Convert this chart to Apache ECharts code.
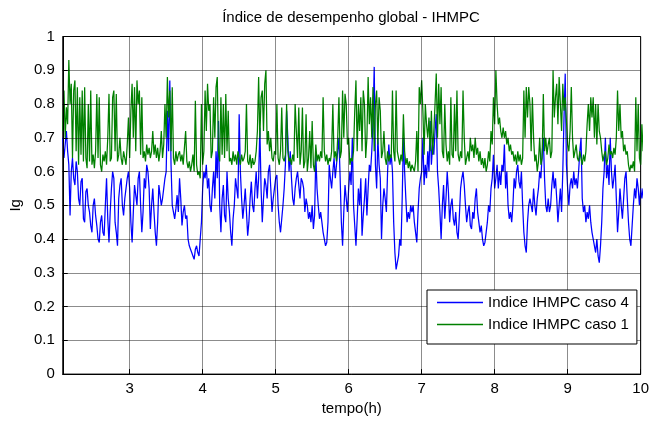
<!DOCTYPE html>
<html>
<head>
<meta charset="utf-8">
<script src="https://cdn.jsdelivr.net/npm/echarts@6/dist/echarts.min.js"></script>
<style>
  html, body { margin: 0; padding: 0; background: #fff; }
  #chart { width: 652px; height: 421px; }
</style>
</head>
<body>
<div id="chart"></div>
<script>
// amostragem: a cada 1 min a partir de 2h05
const t0 = 2.0833;
const dt = 1 / 60;

const xTicks = [3, 4, 5, 6, 7, 8, 9, 10];

// Indice IHMPC caso 4 (azul)
const caso4 = [
  // 2.08 - 3.68 h
  0.70,0.64,0.68,0.72,0.66,0.62,0.47,0.60,0.64,0.58, 0.56,0.63,0.60,0.52,0.50,0.57,0.58,0.46,0.45,0.54,
  0.55,0.50,0.48,0.44,0.42,0.50,0.52,0.47,0.44,0.40, 0.39,0.45,0.47,0.42,0.41,0.50,0.58,0.46,0.39,0.48,
  0.55,0.60,0.58,0.45,0.42,0.38,0.52,0.56,0.58,0.50, 0.47,0.52,0.55,0.58,0.60,0.55,0.45,0.39,0.48,0.56,
  0.53,0.50,0.58,0.60,0.50,0.42,0.48,0.58,0.55,0.62, 0.60,0.55,0.43,0.50,0.55,0.48,0.42,0.38,0.45,0.56,
  0.53,0.50,0.52,0.55,0.58,0.60,0.78,0.66,0.87,0.62, 0.50,0.48,0.46,0.49,0.53,0.48,
  // 3.68 - 5.28 h
  0.58,0.52,0.44,0.48,0.50,0.46,0.47,0.40,0.38,0.37, 0.36,0.35,0.34,0.37,0.38,0.36,0.35,0.40,0.45,0.55,
  0.60,0.58,0.62,0.55,0.58,0.50,0.48,0.55,0.60,0.52, 0.66,0.58,0.75,0.50,0.42,0.52,0.56,0.47,0.45,0.60,
  0.52,0.48,0.42,0.38,0.46,0.50,0.58,0.55,0.52,0.77, 0.60,0.52,0.46,0.50,0.55,0.48,0.41,0.45,0.52,0.57,
  0.50,0.48,0.55,0.60,0.52,0.58,0.73,0.55,0.45,0.52, 0.58,0.56,0.52,0.60,0.62,0.55,0.48,0.52,0.55,0.58,
  0.59,0.50,0.45,0.42,0.46,0.50,0.55,0.62,0.78,0.70, 0.60,0.66,0.58,0.52,0.50,0.55,
  // 5.28 - 6.88 h
  0.58,0.60,0.56,0.52,0.58,0.57,0.55,0.48,0.52,0.50, 0.46,0.48,0.45,0.50,0.43,0.47,0.65,0.55,0.50,0.46,
  0.48,0.45,0.42,0.40,0.38,0.39,0.45,0.62,0.58,0.55, 0.60,0.64,0.58,0.62,0.66,0.70,0.58,0.45,0.38,0.48,
  0.56,0.52,0.48,0.55,0.60,0.56,0.70,0.50,0.44,0.38, 0.46,0.55,0.50,0.58,0.41,0.47,0.52,0.58,0.47,0.55,
  0.62,0.60,0.66,0.75,0.91,0.62,0.55,0.70,0.62,0.58, 0.40,0.50,0.55,0.52,0.48,0.60,0.68,0.62,0.65,0.60,
  0.45,0.36,0.31,0.33,0.35,0.40,0.38,0.52,0.70,0.60, 0.52,0.45,0.48,0.46,0.50,0.48,
  // 6.88 - 8.48 h
  0.50,0.45,0.42,0.39,0.48,0.55,0.58,0.60,0.70,0.56, 0.62,0.58,0.66,0.60,0.75,0.62,0.68,0.65,0.72,0.77,
  0.60,0.55,0.48,0.40,0.50,0.56,0.46,0.52,0.60,0.54, 0.45,0.50,0.52,0.46,0.44,0.48,0.42,0.40,0.47,0.55,
  0.58,0.60,0.56,0.50,0.45,0.48,0.50,0.44,0.43,0.48, 0.46,0.52,0.55,0.48,0.45,0.42,0.44,0.40,0.38,0.39,
  0.42,0.45,0.50,0.48,0.55,0.58,0.65,0.55,0.58,0.62, 0.55,0.60,0.56,0.62,0.60,0.68,0.55,0.60,0.50,0.46,
  0.48,0.45,0.50,0.58,0.55,0.60,0.62,0.57,0.55,0.60, 0.50,0.42,0.38,0.36,0.45,0.50,
  // 8.48 - 10 h
  0.52,0.50,0.48,0.55,0.50,0.47,0.52,0.55,0.60,0.58, 0.65,0.70,0.58,0.50,0.48,0.52,0.48,0.50,0.56,0.60,
  0.55,0.58,0.52,0.45,0.50,0.55,0.48,0.60,0.76,0.89, 0.62,0.55,0.50,0.56,0.58,0.55,0.60,0.56,0.58,0.55,
  0.60,0.66,0.70,0.52,0.48,0.50,0.45,0.48,0.46,0.50, 0.45,0.42,0.40,0.38,0.36,0.40,0.35,0.33,0.38,0.45,
  0.55,0.60,0.70,0.58,0.62,0.56,0.70,0.60,0.55,0.58, 0.62,0.52,0.42,0.48,0.55,0.50,0.46,0.52,0.58,0.60,
  0.52,0.45,0.40,0.38,0.44,0.50,0.55,0.52,0.58,0.55, 0.50,0.55,0.52,0.55
];

// Indice IHMPC caso 1 (verde)
const caso1 = [
  // 2.08 - 3.68 h
  0.72,0.84,0.70,0.79,0.74,0.93,0.80,0.86,0.64,0.84, 0.87,0.66,0.85,0.62,0.82,0.65,0.84,0.63,0.85,0.64,
  0.61,0.80,0.63,0.84,0.62,0.65,0.61,0.66,0.83,0.64, 0.82,0.62,0.60,0.65,0.63,0.66,0.62,0.70,0.83,0.63,
  0.64,0.82,0.84,0.66,0.83,0.63,0.65,0.70,0.64,0.62, 0.66,0.64,0.62,0.68,0.76,0.64,0.78,0.86,0.70,0.85,
  0.66,0.87,0.80,0.84,0.65,0.82,0.64,0.66,0.63,0.68, 0.65,0.67,0.64,0.66,0.72,0.65,0.68,0.64,0.67,0.63,
  0.66,0.72,0.64,0.68,0.80,0.70,0.88,0.76,0.84,0.66, 0.85,0.64,0.62,0.66,0.63,0.65,
  // 3.68 - 5.28 h
  0.66,0.63,0.65,0.62,0.67,0.72,0.63,0.61,0.63,0.60, 0.62,0.65,0.60,0.81,0.62,0.59,0.60,0.58,0.80,0.62,
  0.66,0.84,0.72,0.86,0.78,0.80,0.64,0.66,0.82,0.70, 0.85,0.88,0.66,0.63,0.82,0.65,0.80,0.64,0.83,0.66,
  0.78,0.63,0.64,0.62,0.66,0.63,0.65,0.62,0.66,0.64, 0.62,0.65,0.63,0.64,0.66,0.80,0.63,0.62,0.65,0.61,
  0.64,0.62,0.63,0.66,0.72,0.88,0.70,0.82,0.84,0.72, 0.86,0.90,0.68,0.72,0.66,0.70,0.64,0.63,0.66,0.65,
  0.80,0.64,0.62,0.66,0.79,0.64,0.63,0.65,0.80,0.66, 0.63,0.64,0.62,0.65,0.63,0.80,
  // 5.28 - 6.88 h
  0.80,0.64,0.79,0.62,0.66,0.79,0.61,0.63,0.77,0.60, 0.64,0.72,0.61,0.75,0.62,0.60,0.68,0.63,0.65,0.63,
  0.66,0.64,0.82,0.66,0.63,0.65,0.62,0.64,0.63,0.66, 0.80,0.64,0.66,0.63,0.70,0.82,0.64,0.66,0.84,0.70,
  0.83,0.80,0.68,0.70,0.62,0.64,0.63,0.66,0.78,0.87, 0.66,0.80,0.72,0.82,0.66,0.84,0.80,0.64,0.70,0.88,
  0.74,0.82,0.70,0.85,0.66,0.80,0.84,0.68,0.82,0.78, 0.64,0.66,0.72,0.64,0.62,0.66,0.63,0.65,0.64,0.84,
  0.66,0.63,0.84,0.66,0.64,0.62,0.65,0.63,0.77,0.66, 0.62,0.64,0.61,0.63,0.60,0.62,
  // 6.88 - 8.48 h
  0.62,0.60,0.63,0.72,0.60,0.85,0.80,0.87,0.78,0.65, 0.80,0.74,0.70,0.76,0.66,0.78,0.65,0.72,0.80,0.89,
  0.70,0.86,0.74,0.85,0.66,0.64,0.80,0.68,0.63,0.66, 0.62,0.82,0.65,0.64,0.80,0.66,0.84,0.65,0.63,0.66,
  0.64,0.84,0.70,0.62,0.64,0.66,0.63,0.70,0.66,0.68, 0.64,0.70,0.65,0.67,0.63,0.66,0.62,0.64,0.61,0.64,
  0.60,0.62,0.66,0.63,0.72,0.68,0.82,0.74,0.90,0.80, 0.74,0.76,0.72,0.70,0.73,0.70,0.72,0.68,0.70,0.66,
  0.68,0.65,0.66,0.63,0.65,0.62,0.66,0.63,0.65,0.62, 0.64,0.84,0.70,0.85,0.76,0.85,
  // 8.48 - 10 h
  0.80,0.66,0.82,0.70,0.63,0.65,0.60,0.63,0.70,0.62, 0.64,0.83,0.66,0.70,0.65,0.68,0.70,0.64,0.66,0.90,
  0.76,0.82,0.86,0.74,0.88,0.80,0.72,0.86,0.78,0.82, 0.75,0.68,0.66,0.72,0.85,0.70,0.64,0.66,0.68,0.64,
  0.63,0.66,0.64,0.62,0.65,0.63,0.66,0.74,0.80,0.72, 0.82,0.76,0.82,0.70,0.80,0.68,0.80,0.72,0.70,0.66,
  0.63,0.65,0.66,0.62,0.64,0.68,0.65,0.66,0.64,0.67, 0.65,0.70,0.84,0.72,0.80,0.70,0.72,0.66,0.68,0.65,
  0.66,0.62,0.60,0.62,0.61,0.63,0.60,0.82,0.66,0.80, 0.64,0.62,0.74,0.66
];

const FONT = "'Liberation Sans', Arial, Helvetica, sans-serif";

function toPairs(values) {
    return values.map((v, i) => [t0 + i * dt, v]);
}

let chart = echarts.init(document.getElementById('chart'), null, { renderer: 'canvas' });

let gridStyle = { color: 'rgba(0,0,0,0.45)', width: 1, type: 'solid' };
let legendIcon = 'path://M0,0H46V1.4H0Z';

chart.setOption({
    animation: false,
    backgroundColor: '#fff',
    textStyle: { fontFamily: FONT },
    graphic: [{
        type: 'text',
        x: 351,
        y: 18,
        style: {
            text: 'Índice de desempenho global - IHMPC',
            font: '15px ' + FONT,
            fill: '#000',
            align: 'center',
            verticalAlign: 'middle'
        }
    }],
    grid: {
        left: 58.6,
        right: 9,
        top: 36.5,
        bottom: 41.5,
        show: true,
        borderColor: '#000',
        borderWidth: 1,
        backgroundColor: '#fff'
    },
    legend: {
        orient: 'vertical',
        left: 427,
        top: 290,
        itemWidth: 46,
        itemHeight: 14,
        itemGap: 7,
        padding: [5, 8, 12, 10],
        borderColor: '#000',
        borderWidth: 1,
        borderRadius: 0,
        backgroundColor: '#fff',
        z: 10,
        textStyle: { fontSize: 15, color: '#000', fontFamily: FONT },
        data: [
            { name: 'Indice IHMPC caso 4', icon: legendIcon },
            { name: 'Indice IHMPC caso 1', icon: legendIcon }
        ]
    },
    xAxis: {
        type: 'value',
        min: t0,
        max: 10,
        z: 3,
        name: 'tempo(h)',
        nameLocation: 'middle',
        nameGap: 23,
        nameTextStyle: { fontSize: 15, color: '#000', fontFamily: FONT },
        axisLine: { show: true, onZero: false, lineStyle: { color: '#000', width: 1 } },
        axisTick: { show: true, inside: true, length: 5, lineStyle: { color: '#000' }, customValues: xTicks },
        axisLabel: { fontSize: 15, color: '#000', margin: 7, customValues: xTicks, formatter: v => String(v) },
        splitLine: { show: true, lineStyle: gridStyle, customValues: xTicks }
    },
    yAxis: {
        type: 'value',
        min: 0,
        max: 1,
        interval: 0.1,
        z: 3,
        name: 'Ig',
        nameLocation: 'middle',
        nameGap: 34,
        nameTextStyle: { fontSize: 15, color: '#000', fontFamily: FONT },
        axisLine: { show: true, lineStyle: { color: '#000', width: 1 } },
        axisTick: { show: true, inside: true, length: 5, lineStyle: { color: '#000' } },
        axisLabel: { fontSize: 15, color: '#000', margin: 8, formatter: v => String(Math.round(v * 10) / 10) },
        splitLine: { show: true, lineStyle: gridStyle }
    },
    series: [{
        name: 'Indice IHMPC caso 4',
        type: 'line',
        data: toPairs(caso4),
        showSymbol: false,
        symbol: 'none',
        color: '#0000ff',
        lineStyle: { color: '#0000ff', width: 1.25 },
        z: 2
    }, {
        name: 'Indice IHMPC caso 1',
        type: 'line',
        data: toPairs(caso1),
        showSymbol: false,
        symbol: 'none',
        color: '#008000',
        lineStyle: { color: '#008000', width: 1.25 },
        z: 2
    }]
});
</script>
</body>
</html>
